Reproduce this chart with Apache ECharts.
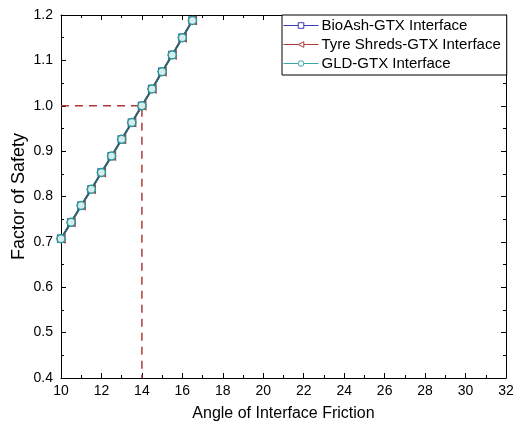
<!DOCTYPE html>
<html>
<head>
<meta charset="utf-8">
<script src="https://cdn.jsdelivr.net/npm/echarts@6/dist/echarts.min.js"></script>
<style>
  html, body { margin: 0; padding: 0; background: #fff; }
  #main { width: 517px; height: 427px; }
</style>
</head>
<body>
<div id="main"></div>
<script>
// data
var angles = [10, 10.5, 11, 11.5, 12, 12.5, 13, 13.5, 14, 14.5, 15, 15.5, 16, 16.5];
var fosBioAsh = [0.707, 0.743, 0.780, 0.816, 0.853, 0.889, 0.926, 0.963, 1.000, 1.037, 1.075, 1.112, 1.150, 1.188];
var fosTyre = [0.707, 0.743, 0.780, 0.816, 0.853, 0.889, 0.926, 0.963, 1.000, 1.037, 1.075, 1.112, 1.150, 1.188];
var fosGLD = [0.707, 0.743, 0.780, 0.816, 0.853, 0.889, 0.926, 0.963, 1.000, 1.037, 1.075, 1.112, 1.150, 1.188];
var guideX = [10, 14, 14];
var guideY = [1.0, 1.0, 0.4];
var names = ['BioAsh-GTX Interface', 'Tyre Shreds-GTX Interface', 'GLD-GTX Interface'];

var myChart = echarts.init(document.getElementById('main'));

function pairs(xs, ys) {
  var out = [];
  for (var i = 0; i < xs.length; i++) {
    out.push([xs[i], ys[i]]);
  }
  return out;
}

var fontFam = 'Liberation Sans, Arial, sans-serif';
var axisLine = { show: true, lineStyle: { color: '#000', width: 1 } };

var option = {
  animation: false,
  backgroundColor: '#fff',
  grid: { left: 61, right: 11, top: 15, bottom: 49, outerBoundsMode: 'none' },
  legend: {
    data: [
      { name: names[0], lineStyle: { color: '#3a3ab8', width: 1 }, itemStyle: { borderWidth: 1 } },
      { name: names[1], lineStyle: { color: '#b03a3a', width: 1 }, itemStyle: { borderWidth: 1 } },
      { name: names[2], lineStyle: { color: '#3aa8a8', width: 1 }, itemStyle: { borderWidth: 1, color: '#fff', borderColor: '#3aa8a8' } }
    ],
    orient: 'vertical',
    left: 282,
    top: 15,
    itemWidth: 35,
    itemHeight: 7,
    itemGap: 2,
    padding: [2, 6, 3, 1],
    borderColor: '#000',
    borderWidth: 1,
    borderRadius: 0,
    backgroundColor: '#fff',
    textStyle: { fontSize: 15, lineHeight: 17, color: '#000', fontFamily: fontFam, padding: [0, 0, 0, -2] }
  },
  xAxis: [{
    type: 'value',
    min: 10, max: 32, interval: 2,
    name: 'Angle of Interface Friction',
    nameLocation: 'middle',
    nameGap: 28,
    nameMoveOverlap: false,
    nameTextStyle: { fontSize: 16, color: '#000', fontFamily: fontFam },
    axisLine: axisLine,
    axisTick: { show: true, inside: true, length: 5, lineStyle: { color: '#000' } },
    minorTick: { show: true, splitNumber: 2, length: 3, lineStyle: { color: '#000' } },
    axisLabel: { fontSize: 14, color: '#000', fontFamily: fontFam, margin: 6 },
    splitLine: { show: false }
  }, {
    type: 'value', position: 'top',
    min: 10, max: 32, interval: 2,
    axisLine: axisLine,
    axisTick: { show: true, inside: true, length: 5, lineStyle: { color: '#000' } },
    minorTick: { show: true, splitNumber: 2, length: 3, lineStyle: { color: '#000' } },
    axisLabel: { show: false },
    splitLine: { show: false }
  }],
  yAxis: [{
    type: 'value',
    min: 0.4, max: 1.2, interval: 0.1,
    name: 'Factor of Safety',
    nameLocation: 'middle',
    nameGap: 33,
    nameMoveOverlap: false,
    nameTextStyle: { fontSize: 18, color: '#000', fontFamily: fontFam },
    axisLine: axisLine,
    axisTick: { show: true, inside: true, length: 5, lineStyle: { color: '#000' } },
    minorTick: { show: true, splitNumber: 2, length: 3, lineStyle: { color: '#000' } },
    axisLabel: { fontSize: 14, color: '#000', fontFamily: fontFam, margin: 8,
      formatter: function (v) { return v.toFixed(1); } },
    splitLine: { show: false }
  }, {
    type: 'value', position: 'right',
    min: 0.4, max: 1.2, interval: 0.1,
    axisLine: axisLine,
    axisTick: { show: true, inside: true, length: 5, lineStyle: { color: '#000' } },
    minorTick: { show: true, splitNumber: 2, length: 3, lineStyle: { color: '#000' } },
    axisLabel: { show: false },
    splitLine: { show: false }
  }],
  series: [{
    name: 'guide',
    type: 'line',
    data: pairs(guideX, guideY),
    symbol: 'none',
    lineStyle: { color: '#b03a3a', width: 1.5, type: [8, 6] },
    z: 1
  }, {
    name: names[0],
    type: 'line',
    data: pairs(angles, fosBioAsh),
    symbol: 'rect',
    symbolSize: 7,
    itemStyle: { color: '#fff', borderColor: '#3a3ab8', borderWidth: 1.2 },
    lineStyle: { color: '#3a3ab8', width: 1.5 },
    z: 2
  }, {
    name: names[1],
    type: 'line',
    data: pairs(angles, fosTyre),
    symbol: 'triangle',
    symbolRotate: 90,
    symbolSize: 8,
    itemStyle: { color: '#fff', borderColor: '#b03a3a', borderWidth: 1.2 },
    lineStyle: { color: '#b03a3a', width: 1.5 },
    z: 3
  }, {
    name: names[2],
    type: 'line',
    data: pairs(angles, fosGLD),
    symbol: 'circle',
    symbolSize: 8,
    itemStyle: { color: '#d8ecec', borderColor: '#2a9a9a', borderWidth: 1.5 },
    lineStyle: { color: '#2e6470', width: 2 },
    z: 4
  }]
};

myChart.setOption(option);
</script>
</body>
</html>
